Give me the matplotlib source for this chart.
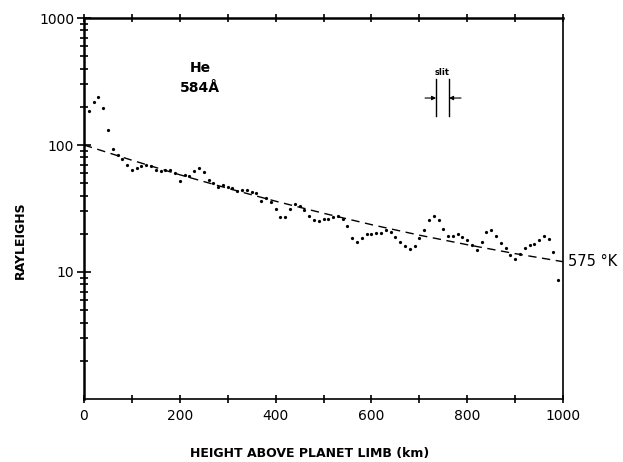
import matplotlib.pyplot as plt
from matplotlib.ticker import FixedLocator, NullFormatter

# measured He 584 A brightness vs height (km)
height = list(range(10, 1000, 10))
rayleighs = [185, 218, 240, 197, 131, 93, 84, 77, 70, 64,
             66, 68, 70, 68, 64, 62, 64, 64, 60, 52,
             58, 57, 62, 66, 61, 53, 50, 47, 48, 47,
             45.6, 43.6, 44, 44, 43, 41.7, 36, 38, 35.8, 31.3,
             27.2, 27.2, 31.3, 34.3, 33.2, 30.7, 27.7, 25.6, 25.3, 26,
             26, 27, 27.6, 26, 23, 18.6, 17.3, 18.4, 19.9, 19.9,
             20.2, 20.4, 21.4, 20.8, 18.8, 17.1, 16, 15.2, 16, 18.4,
             21.4, 25.6, 27.6, 25.6, 21.7, 19.3, 19.3, 19.8, 19, 17.9,
             16.3, 14.9, 17.1, 20.8, 21.4, 19.3, 17, 15.4, 13.6, 12.6,
             13.8, 15.4, 16.3, 16.5, 17.9, 19.3, 18.2, 14.5, 8.6]

# 575 K model curve
model_height = [0, 100, 200, 300, 400, 500, 600, 700, 800, 900, 1000]
model_rayleighs = [100, 75.9, 58.3, 45.6, 36.1, 29.0, 23.6, 19.5, 16.4, 13.95, 12.05]

fig = plt.figure(figsize=(6.23, 4.62), dpi=100)
ax = fig.add_axes([0.1348, 0.1364, 0.769, 0.8246])

ax.plot(height, rayleighs, ls="none", marker="o", ms=1.3, color="black")
ax.plot(model_height, model_rayleighs, color="black", lw=1, dashes=(6, 4))

ax.set_yscale("log")
ax.set_xlim(0, 1000)
ax.set_ylim(1, 1000)

ax.set_xticks([0, 200, 400, 600, 800, 1000])
ax.xaxis.set_minor_locator(FixedLocator([100, 300, 500, 700, 900]))
ax.set_yticks([10, 100, 1000])
ax.set_yticklabels(["10", "100", "1000"])
minors = [m * d for d in (1, 10, 100) for m in range(2, 10)]
ax.yaxis.set_minor_locator(FixedLocator(minors))
ax.yaxis.set_minor_formatter(NullFormatter())

ax.tick_params(axis="both", which="both", direction="inout", width=1.2, labelsize=10)
ax.tick_params(axis="x", which="both", top=True, length=6)
ax.tick_params(axis="y", which="major", length=10)
ax.tick_params(axis="y", which="minor", length=6)
ax.tick_params(axis="x", which="major", pad=4)
ax.tick_params(axis="y", which="major", pad=2)

for side in ["left", "top"]:
    ax.spines[side].set_linewidth(1.8)
for side in ["bottom", "right"]:
    ax.spines[side].set_linewidth(1.2)

ax.set_xlabel("HEIGHT ABOVE PLANET LIMB (km)", fontsize=9, fontweight="bold")
ax.set_ylabel("RAYLEIGHS", fontsize=9, fontweight="bold")
ax.xaxis.set_label_coords(0.472, -0.125)
ax.yaxis.set_label_coords(-0.12, 0.417)

ax.text(0.242, 0.87, "He", transform=ax.transAxes, ha="center", va="center",
        fontsize=10, fontweight="bold")
ax.text(0.242, 0.815, "584Å", transform=ax.transAxes, ha="center", va="center",
        fontsize=10, fontweight="bold")

# slit symbol
ax.text(0.747, 0.858, "slit", transform=ax.transAxes, ha="center", va="center",
        fontsize=6, fontweight="bold")
ax.plot([0.735, 0.735], [0.742, 0.839], transform=ax.transAxes, color="black", lw=1)
ax.plot([0.762, 0.762], [0.742, 0.839], transform=ax.transAxes, color="black", lw=1)
ax.annotate("", xy=(0.735, 0.79), xytext=(0.712, 0.79), xycoords="axes fraction",
            arrowprops=dict(arrowstyle="-|>", color="black", lw=0.8, mutation_scale=6,
                            shrinkA=0, shrinkB=0))
ax.annotate("", xy=(0.762, 0.79), xytext=(0.787, 0.79), xycoords="axes fraction",
            arrowprops=dict(arrowstyle="-|>", color="black", lw=0.8, mutation_scale=6,
                            shrinkA=0, shrinkB=0))

ax.text(1.01, model_rayleighs[-1], "575 °K", transform=ax.get_yaxis_transform(),
        ha="left", va="center", fontsize=10.5)

fig.savefig("out.png", dpi=100)
